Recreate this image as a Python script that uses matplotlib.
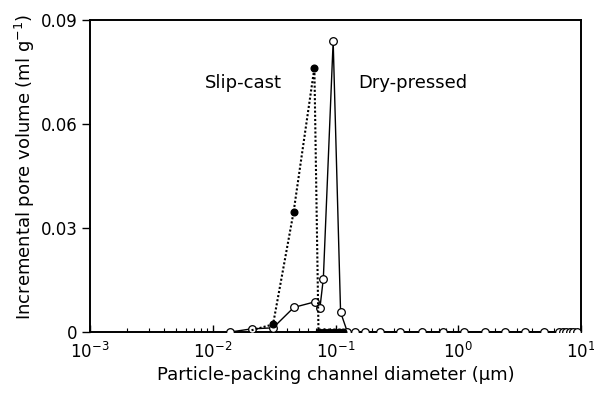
import matplotlib
matplotlib.use("Agg")
import matplotlib.pyplot as plt
from matplotlib.ticker import FixedLocator, FixedFormatter, LogLocator, NullFormatter

# Dry-pressed (open circles, solid line)
dry_x = [0.0139, 0.0207, 0.031, 0.0458, 0.068, 0.0747, 0.0796, 0.0957, 0.110,
         0.125, 0.145, 0.173, 0.229, 0.334, 0.503, 0.75, 1.12, 1.64, 2.42, 3.50,
         4.98, 6.65, 7.10, 7.57, 8.08, 8.62, 9.20]
dry_y = [0.0, 0.0009, 0.0012, 0.0071, 0.0087, 0.0070, 0.0154, 0.0839, 0.0057,
         0.0, 0.0, 0.0, 0.0, 0.0, 0.0, 0.0, 0.0, 0.0, 0.0, 0.0,
         0.0, 0.0, 0.0, 0.0, 0.0, 0.0, 0.0]

# Slip-cast (filled circles, dotted line)
slip_x = [0.0207, 0.031, 0.0456, 0.0673, 0.0727, 0.081, 0.089, 0.098, 0.107, 0.115]
slip_y = [0.0005, 0.0022, 0.0347, 0.0762, 0.0, 0.0, 0.0, 0.0, 0.0, 0.0]

y_ticks = [0.0, 0.03, 0.06, 0.09]
y_labels = ["0", "0.03", "0.06", "0.09"]

fig = plt.figure(figsize=(5.94, 3.94), dpi=100)
ax = fig.add_axes([90 / 594, 62 / 394, 491 / 594, 312 / 394])

ax.plot(dry_x, dry_y, linestyle="-", color="black", lw=1.0,
        marker="o", markersize=5.5, markerfacecolor="white",
        markeredgecolor="black", markeredgewidth=0.9, zorder=3)
ax.plot(slip_x, slip_y, linestyle=(0, (1, 1)), color="black", lw=1.5,
        marker="o", markersize=4.8, markerfacecolor="black",
        markeredgecolor="black", markevery=list(range(1, len(slip_x))), zorder=4)

ax.set_xscale("log")
ax.set_xlim(1e-3, 1e1)
ax.set_ylim(0, 0.09)

ax.yaxis.set_major_locator(FixedLocator(y_ticks))
ax.yaxis.set_major_formatter(FixedFormatter(y_labels))
ax.xaxis.set_major_locator(LogLocator(base=10, numticks=10))
ax.xaxis.set_minor_locator(LogLocator(base=10, subs=range(2, 10), numticks=20))
ax.xaxis.set_minor_formatter(NullFormatter())

ax.tick_params(axis="x", which="major", direction="in", length=5, width=1, labelsize=12, pad=7)
ax.tick_params(axis="x", which="minor", direction="in", length=3, width=0.8)
ax.tick_params(axis="y", which="major", direction="out", length=6, width=1, labelsize=12, pad=3)

for s in ax.spines.values():
    s.set_linewidth(1.4)

ax.set_xlabel("Particle-packing channel diameter (\u03bcm)", fontsize=13, labelpad=3)
ax.set_ylabel("Incremental pore volume (ml g$^{-1}$)", fontsize=13)
ax.yaxis.set_label_coords(-0.108, 0.53)

ax.text(0.00865, 0.0718, "Slip-cast", fontsize=13, ha="left", va="center")
ax.text(0.152, 0.0718, "Dry-pressed", fontsize=13, ha="left", va="center")

fig.savefig("out.png", dpi=100)
